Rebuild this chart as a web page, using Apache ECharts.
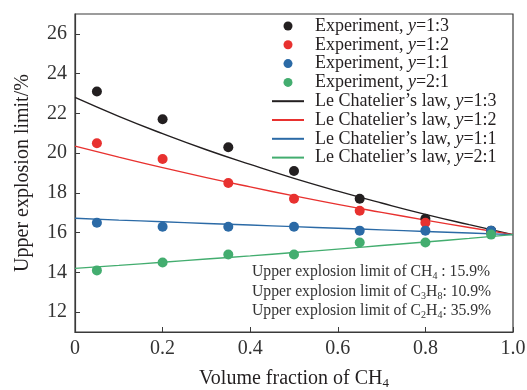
<!DOCTYPE html>
<html>
<head>
<meta charset="utf-8">
<script src="https://cdn.jsdelivr.net/npm/echarts@6/dist/echarts.min.js"></script>
<style>
  html, body { margin: 0; padding: 0; background: #fff; }
  #chart { width: 527px; height: 390px; }
</style>
</head>
<body>
<div id="chart"></div>
<script>
// experiment points, x = volume fraction of CH4
const expX = [0.05, 0.2, 0.35, 0.5, 0.65, 0.8, 0.95];
const exp13 = [23.1, 21.7, 20.3, 19.1, 17.7, 16.7, 16.1];
const exp12 = [20.5, 19.7, 18.5, 17.7, 17.1, 16.5, 16.0];
const exp11 = [16.5, 16.3, 16.3, 16.3, 16.1, 16.1, 16.1];
const exp21 = [14.1, 14.5, 14.9, 14.9, 15.5, 15.5, 15.9];

// Le Chatelier curves
const lawX = [0, 0.1, 0.2, 0.3, 0.4, 0.5, 0.6, 0.7, 0.8, 0.9, 1.0];
const law13 = [22.8, 21.85, 20.98, 20.17, 19.43, 18.73, 18.09, 17.49, 16.92, 16.4, 15.9];
const law12 = [20.35, 19.8, 19.27, 18.77, 18.3, 17.85, 17.42, 17.02, 16.63, 16.26, 15.9];
const law11 = [16.72, 16.63, 16.55, 16.46, 16.38, 16.3, 16.22, 16.14, 16.06, 15.98, 15.9];
const law21 = [14.2, 14.35, 14.51, 14.67, 14.83, 15.0, 15.17, 15.35, 15.53, 15.71, 15.9];

const ratios = ['1:3', '1:2', '1:1', '2:1'];
const colors = ['#231f20', '#e8312f', '#2b6aa6', '#43ad6f'];
const yTicks = [12, 14, 16, 18, 20, 22, 24, 26];
const notes = [
  ['CH', '4', ' : 15.9%'],
  ['C', '3', 'H', '8', ': 10.9%'],
  ['C', '2', 'H', '4', ': 35.9%']
];

const serif = '"Liberation Serif", "Times New Roman", serif';
const pair = (xs, ys) => xs.map((x, i) => [x, ys[i]]);
const expData = [exp13, exp12, exp11, exp21];
const lawData = [law13, law12, law11, law21];

const series = [];
ratios.forEach((r, i) => {
  series.push({
    name: 'Experiment, y=' + r,
    type: 'scatter',
    symbolSize: 10,
    itemStyle: { color: colors[i], opacity: 1 },
    data: pair(expX, expData[i]),
    z: 3
  });
});
ratios.forEach((r, i) => {
  series.push({
    name: 'Le Chatelier’s law, y=' + r,
    type: 'line',
    smooth: true,
    showSymbol: false,
    symbol: 'none',
    lineStyle: { color: colors[i], width: 1.4 },
    // transparent item style so the legend shows the line only
    itemStyle: { color: colors[i], opacity: 0 },
    data: pair(lawX, lawData[i]),
    z: 2
  });
});

// build rich text for the note lines (odd parts of chemical names are subscripts)
const noteText = notes.map(parts => {
  let s = '{t|Upper explosion limit of }';
  parts.forEach((p, k) => {
    const isLast = k === parts.length - 1;
    if (isLast) s += '{t|' + p + '}';
    else s += (k % 2 === 1 ? '{s|' : '{t|') + p + '}';
  });
  return s;
}).join('\n');

const chart = echarts.init(document.getElementById('chart'));
chart.setOption({
  animation: false,
  textStyle: { fontFamily: serif },
  grid: {
    left: 75, right: 14, top: 14, bottom: 58,
    outerBoundsMode: 'none',
    containLabel: false,
    show: true, borderColor: '#3a3a3a', borderWidth: 1.2, backgroundColor: 'transparent'
  },
  legend: {
    orient: 'vertical',
    left: 271,
    top: 17,
    padding: 0,
    itemWidth: 32,
    itemHeight: 9,
    itemGap: 0.8,
    data: series.map(s => s.name),
    formatter: name => {
      const [head, tail] = name.split(', y=');
      return '{h|' + head + ', }{i|y}{t|=' + tail + '}';
    },
    textStyle: {
      color: '#231f20',
      rich: {
        h: { fontFamily: serif, fontSize: 18, lineHeight: 18.8, color: '#231f20', padding: [0, 0, 0, 6] },
        t: { fontFamily: serif, fontSize: 18, lineHeight: 18.8, color: '#231f20' },
        i: { fontFamily: serif, fontSize: 18, lineHeight: 18.8, fontStyle: 'italic', color: '#231f20' }
      }
    }
  },
  xAxis: {
    type: 'value',
    min: 0,
    max: 1,
    interval: 0.2,
    name: '{t|Volume fraction of CH}{s|4}',
    nameLocation: 'middle',
    nameGap: 36,
    nameTextStyle: {
      rich: {
        t: { fontFamily: serif, fontSize: 20, color: '#231f20', lineHeight: 22 },
        s: { fontFamily: serif, fontSize: 13, color: '#231f20', verticalAlign: 'bottom', lineHeight: 13 }
      }
    },
    axisLine: { lineStyle: { color: '#3a3a3a', width: 1.2 } },
    axisTick: { inside: true, length: 5, lineStyle: { color: '#3a3a3a' } },
    axisLabel: {
      fontFamily: serif, fontSize: 20, color: '#333', margin: 7,
      formatter: v => (v === 0 ? '0' : v.toFixed(1))
    },
    splitLine: { show: false }
  },
  yAxis: {
    type: 'value',
    min: 11,
    max: 27,
    name: 'Upper explosion limit/%',
    nameLocation: 'middle',
    nameGap: 42,
    nameTextStyle: { fontFamily: serif, fontSize: 20, color: '#231f20' },
    axisLine: { show: true, lineStyle: { color: '#3a3a3a', width: 1.2 } },
    axisTick: { inside: true, length: 5, customValues: yTicks, lineStyle: { color: '#3a3a3a' } },
    axisLabel: { fontFamily: serif, fontSize: 20, color: '#333', margin: 8, customValues: yTicks },
    splitLine: { show: false }
  },
  graphic: [{
    type: 'text',
    left: 252,
    top: 264,
    style: {
      text: noteText,
      fill: '#333',
      font: '15.7px ' + serif,
      rich: {
        t: { fontFamily: serif, fontSize: 15.7, lineHeight: 19.5, fill: '#333' },
        s: { fontFamily: serif, fontSize: 10, lineHeight: 10, verticalAlign: 'bottom', fill: '#333' }
      }
    }
  }],
  series: series
});
</script>
</body>
</html>
